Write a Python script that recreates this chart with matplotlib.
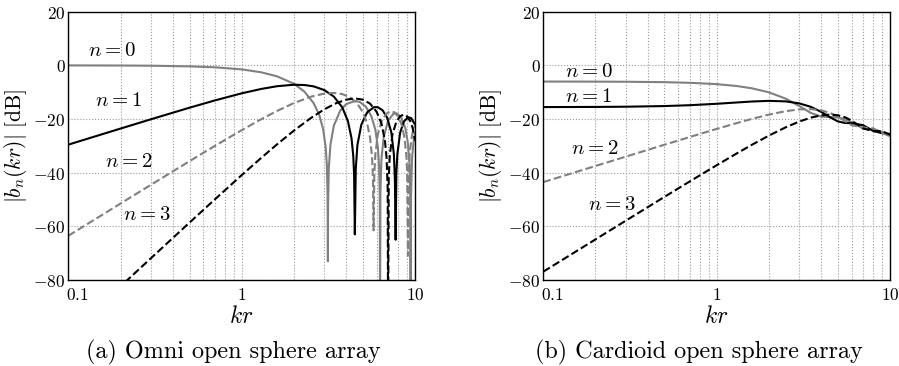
import matplotlib
matplotlib.use("Agg")
import matplotlib.pyplot as plt
from matplotlib.ticker import FixedLocator, FixedFormatter, NullFormatter

plt.rcParams['mathtext.fontset'] = 'cm'

# ---------------- data: omni open sphere ----------------
kr_o0 = [0.1, 0.2, 0.3, 0.5, 0.7, 1.0, 1.3, 1.6, 2.0, 2.3, 2.6, 2.8, 2.95, 3.05, 3.1, 3.13,
         3.1416, 3.15, 3.18, 3.25, 3.4, 3.7, 4.0, 4.5, 4.8, 5.2, 5.6, 5.9, 6.1, 6.2, 6.26,
         6.2832, 6.31, 6.4, 6.6, 7.0, 7.5, 7.85, 8.3, 8.8, 9.1, 9.3, 9.4, 9.4248, 9.45,
         9.6, 9.8, 10.0]
db_o0 = [-0.01, -0.06, -0.13, -0.37, -0.72, -1.50, -2.60, -4.09, -6.85, -9.78, -14.06,
         -18.44, -23.80, -30.46, -37.45, -48.63, -73.0, -51.47, -38.36, -29.55, -22.48,
         -16.88, -14.46, -13.26, -13.66, -15.40, -18.96, -23.96, -30.50, -37.46, -48.63,
         -100.0, -47.44, -34.79, -26.52, -20.55, -18.06, -17.90, -19.28, -23.55, -29.10,
         -37.47, -51.58, -100.0, -51.47, -34.82, -28.54, -25.29]

kr_o1 = [0.1, 0.2, 0.3, 0.5, 0.7, 1.0, 1.3, 1.6, 2.0, 2.3, 2.6, 3.0, 3.4, 3.8, 4.1, 4.3,
         4.4, 4.45, 4.4934, 4.55, 4.65, 4.9, 5.3, 5.8, 6.1, 6.5, 6.9, 7.3, 7.55, 7.65,
         7.7253, 7.8, 7.9, 8.2, 8.6, 9.1, 9.5, 10.0]
db_o1 = [-29.55, -23.56, -20.08, -15.78, -13.07, -10.42, -8.77, -7.77, -7.22, -7.32,
         -7.83, -9.23, -11.63, -15.61, -20.77, -27.20, -33.68, -40.72, -63.0, -38.53,
         -29.67, -22.05, -17.44, -15.57, -15.59, -16.76, -19.49, -25.02, -33.22, -42.57,
         -65.0, -40.45, -33.22, -25.13, -21.03, -19.33, -19.65, -22.11]

kr_o2 = [0.1, 0.2, 0.3, 0.5, 0.7, 1.0, 1.3, 1.6, 2.0, 2.5, 3.0, 3.4, 3.8, 4.2, 4.6, 5.0,
         5.3, 5.5, 5.65, 5.72, 5.7635, 5.82, 5.9, 6.1, 6.4, 6.8, 7.2, 7.6, 8.0, 8.4, 8.7,
         8.9, 9.0, 9.095, 9.2, 9.35, 9.6, 10.0]
db_o2 = [-63.52, -51.51, -44.49, -35.72, -30.02, -24.15, -20.03, -16.98, -14.05, -11.70,
         -10.50, -10.27, -10.70, -11.85, -13.92, -17.41, -21.83, -26.88, -34.37, -42.8,
         -61.5, -40.66, -33.14, -25.71, -20.95, -18.11, -17.14, -17.47, -19.09, -22.46,
         -27.23, -33.39, -39.71, -71.0, -39.03, -31.54, -26.09, -22.16]

kr_o3 = [0.1, 0.2, 0.3, 0.5, 0.7, 1.0, 1.3, 1.6, 2.0, 2.5, 3.0, 3.5, 4.0, 4.5, 5.0, 5.5,
         6.0, 6.4, 6.7, 6.85, 6.95, 6.9879, 7.05, 7.15, 7.4, 7.8, 8.2, 8.6, 9.0, 9.4,
         9.7, 10.0]
db_o3 = [-100.4, -82.38, -71.84, -58.61, -49.96, -40.91, -34.41, -29.43, -24.33, -19.67,
         -16.36, -14.12, -12.79, -12.33, -12.77, -14.27, -17.29, -21.69, -28.01, -34.53,
         -45.9, -100.0, -41.70, -33.51, -25.84, -20.99, -18.94, -18.38, -19.01, -20.92,
         -23.55, -28.07]

# ---------------- data: cardioid open sphere ----------------
kr_c = [0.1, 0.2, 0.3, 0.5, 0.7, 1.0, 1.3, 1.6, 2.0, 2.5, 3.0, 3.5, 4.0, 4.5, 5.0, 5.5,
        6.0, 7.0, 8.0, 9.0, 10.0]
db_c0 = [-6.03, -6.06, -6.11, -6.26, -6.50, -7.00, -7.68, -8.56, -10.04, -12.39, -15.17,
         -17.75, -19.09, -19.28, -19.41, -20.04, -21.20, -23.54, -23.87, -24.75, -26.42]
db_c1 = [-15.55, -15.49, -15.41, -15.17, -14.85, -14.32, -13.84, -13.47, -13.23, -13.42,
         -14.17, -15.48, -17.29, -19.31, -20.88, -21.48, -21.51, -22.31, -24.43, -25.30,
         -25.58]
db_c2 = [-43.51, -37.51, -34.00, -29.58, -26.70, -23.69, -21.55, -19.94, -18.36, -17.07,
         -16.41, -16.31, -16.75, -17.70, -19.11, -20.79, -22.29, -23.15, -23.47, -25.17,
         -26.43]
db_c3 = [-76.90, -64.87, -57.85, -49.02, -43.26, -37.23, -32.90, -29.58, -26.19, -23.10,
         -20.93, -19.47, -18.64, -18.35, -18.60, -19.35, -20.56, -23.52, -24.51, -24.52,
         -25.87]

labels = [r'$n = 0$', r'$n = 1$', r'$n = 2$', r'$n = 3$']
x_ticks = [0.1, 1, 10]
x_ticklabels = [r'$0.1$', r'$1$', r'$10$']
y_ticks = [-80, -60, -40, -20, 0, 20]
y_ticklabels = [r'$-80$', r'$-60$', r'$-40$', r'$-20$', r'$0$', r'$20$']
captions = ['(a) Omni open sphere array', '(b) Cardioid open sphere array']

GRAY = '#808080'
styles = [dict(color=GRAY, ls='-'), dict(color='black', ls='-'),
          dict(color=GRAY, ls='--'), dict(color='black', ls='--')]

fig = plt.figure(figsize=(8.99, 3.66), dpi=100)
ax1 = fig.add_axes([0.076, 0.235, 0.3857, 0.733])
ax2 = fig.add_axes([0.6043, 0.235, 0.3857, 0.733])

omni = [(kr_o0, db_o0), (kr_o1, db_o1), (kr_o2, db_o2), (kr_o3, db_o3)]
card = [(kr_c, db_c0), (kr_c, db_c1), (kr_c, db_c2), (kr_c, db_c3)]

label_pos = [
    [(0.179, 5.7), (0.194, -12.9), (0.224, -35.6), (0.283, -55.5)],
    [(0.182, -2.0), (0.182, -11.4), (0.199, -30.7), (0.248, -51.7)],
]

minor = [0.2, 0.3, 0.4, 0.5, 0.6, 0.7, 0.8, 0.9, 2, 3, 4, 5, 6, 7, 8, 9]

for ax, data, pos in [(ax1, omni, label_pos[0]), (ax2, card, label_pos[1])]:
    for (x, y), st in zip(data, styles):
        ax.plot(x, y, lw=1.5, **st)
    ax.set_xscale('log')
    ax.set_xlim(0.1, 10)
    ax.set_ylim(-80, 20)
    ax.xaxis.set_major_locator(FixedLocator(x_ticks))
    # first tick label (0.1) is drawn separately, left-aligned at the axis corner
    ax.xaxis.set_major_formatter(FixedFormatter([''] + x_ticklabels[1:]))
    ax.xaxis.set_minor_locator(FixedLocator(minor))
    ax.xaxis.set_minor_formatter(NullFormatter())
    ax.yaxis.set_major_locator(FixedLocator(y_ticks))
    ax.yaxis.set_major_formatter(FixedFormatter(y_ticklabels))
    ax.tick_params(which='both', length=0, labelsize=12.5)
    ax.tick_params(axis='x', pad=4)
    ax.tick_params(axis='y', pad=2)
    ax.annotate(x_ticklabels[0], xy=(0, 0), xycoords='axes fraction',
                xytext=(-1.5, -4), textcoords='offset points',
                ha='left', va='top', fontsize=12.5)
    ax.grid(True, axis='x', which='both', ls=':', color='#999999', lw=0.8)
    ax.grid(True, axis='y', which='major', ls=':', color='#999999', lw=0.8)
    for s in ax.spines.values():
        s.set_linewidth(1.0)
    ax.set_xlabel(r'$kr$', fontsize=17, labelpad=0)
    ax.set_ylabel(r'$|b_n(kr)|\ [\mathrm{dB}]$', fontsize=15.5, labelpad=3)
    for (tx, ty), lab in zip(pos, labels):
        ax.text(tx, ty, lab, fontsize=15, ha='center', va='center')

fig.text(0.2597, 0.038, captions[0], fontsize=17.4, family='cmr10', ha='center', va='center')
fig.text(0.777, 0.038, captions[1], fontsize=17.4, family='cmr10', ha='center', va='center')

fig.savefig('out.png', dpi=100)
